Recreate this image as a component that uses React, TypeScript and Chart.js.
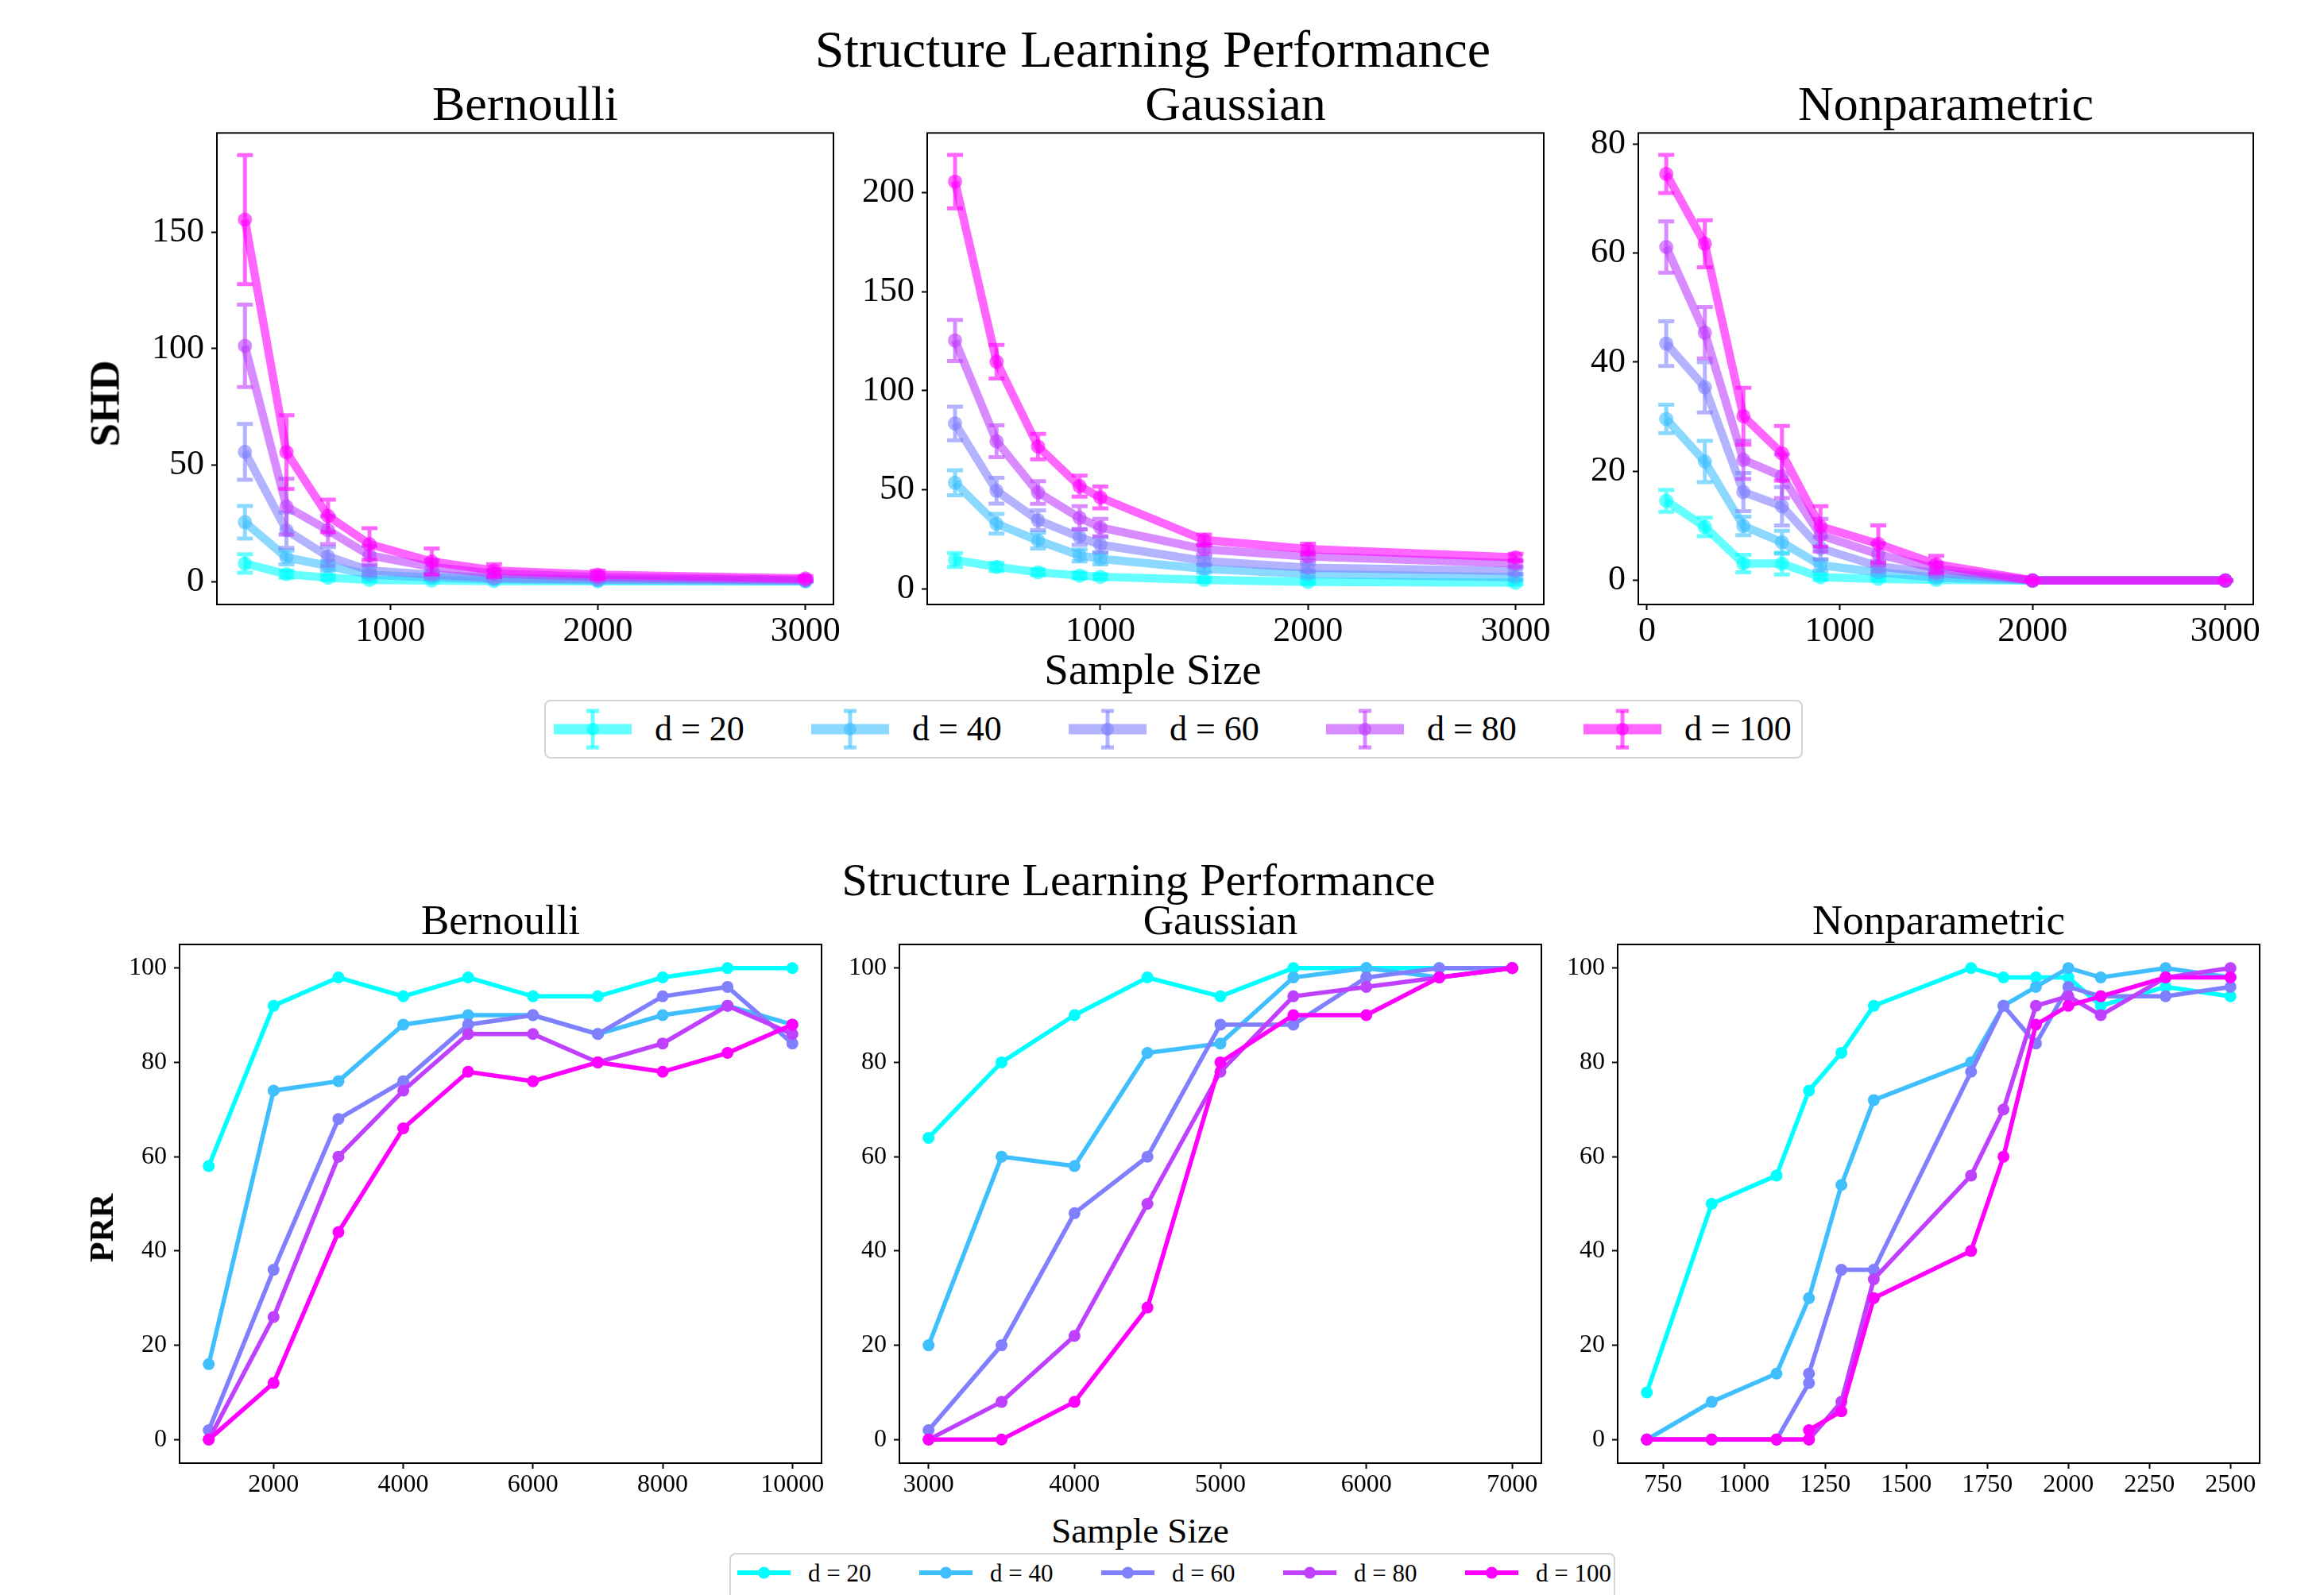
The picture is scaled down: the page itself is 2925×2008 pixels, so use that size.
import React, { useEffect, useRef } from 'react';
import { Chart, registerables } from 'chart.js';

Chart.register(...registerables);

const FONT = "'Liberation Serif', 'Times New Roman', Times, serif";

// ---------- series ----------
const seriesLabels = ['d = 20', 'd = 40', 'd = 60', 'd = 80', 'd = 100'];
const seriesColors = ['#00FFFF', '#40BFFF', '#8080FF', '#BF40FF', '#FF00FF'];
const fadedColors = [
  'rgba(0,255,255,0.6)',
  'rgba(64,191,255,0.6)',
  'rgba(128,128,255,0.6)',
  'rgba(191,64,255,0.6)',
  'rgba(255,0,255,0.6)',
];

// ---------- SHD (top row) ----------
const shdBernoulliX = [300, 500, 700, 900, 1200, 1500, 2000, 3000];
const shdBernoulliMean = [
  [7.8, 3.2, 1.7, 0.8, 0.5, 0.3, 0.2, 0.1],
  [25.5, 10.4, 6.8, 3.0, 1.8, 1.0, 0.5, 0.3],
  [55.7, 22.1, 10.8, 4.8, 3.0, 1.5, 1.0, 0.5],
  [101.2, 32.2, 22.1, 11.3, 6.3, 3.5, 2.0, 0.8],
  [155.4, 55.6, 28.2, 16.1, 8.6, 4.8, 3.0, 1.4],
];
const shdBernoulliErr = [
  [4, 1.5, 1, 0.6, 0.4, 0.3, 0.2, 0.1],
  [7, 3, 2, 1.2, 0.8, 0.5, 0.3, 0.2],
  [12, 7.6, 4, 2, 1.5, 1, 0.6, 0.4],
  [17.7, 12, 6, 4, 3, 1.5, 1, 0.5],
  [27.7, 15.8, 7, 6.8, 5.6, 2.7, 1.7, 1],
];
const shdBernoulliXTicks = [1000, 2000, 3000];
const shdBernoulliYTicks = [0, 50, 100, 150];

const shdGaussianX = [300, 500, 700, 900, 1000, 1500, 2000, 3000];
const shdGaussianMean = [
  [14.5, 11.0, 8.3, 6.6, 6.0, 4.4, 3.4, 3.0],
  [53.5, 32.8, 24.3, 16.8, 15.1, 10.1, 7.4, 5.7],
  [83.5, 49.5, 34.6, 26.1, 22.2, 14.0, 10.6, 9.0],
  [125.4, 74.5, 48.6, 35.8, 30.9, 19.9, 16.3, 12.8],
  [205.7, 114.7, 71.8, 51.8, 46.1, 24.6, 20.0, 15.8],
];
const shdGaussianErr = [
  [3.5, 2, 1.5, 1.5, 1.3, 1, 1, 1],
  [6.3, 5, 4, 3, 2.8, 2, 1.5, 1.2],
  [8.5, 6.5, 5, 4, 3.8, 2, 2, 1.5],
  [10.4, 8, 5.7, 5.9, 4.4, 2.5, 2, 1.5],
  [13.5, 8.5, 6.4, 5.3, 5.5, 2.7, 2.7, 1.8],
];
const shdGaussianXTicks = [1000, 2000, 3000];
const shdGaussianYTicks = [0, 50, 100, 150, 200];

const shdNonparamX = [100, 300, 500, 700, 900, 1200, 1500, 2000, 3000];
const shdNonparamMean = [
  [14.6, 9.8, 3.1, 3.1, 0.6, 0.3, 0.1, 0, 0],
  [29.6, 21.8, 10.0, 7.0, 2.8, 1.5, 0.5, 0, 0],
  [43.4, 35.4, 16.2, 13.6, 5.9, 2.6, 1.4, 0, 0],
  [61.1, 45.4, 22.1, 19.1, 8.3, 4.8, 2.2, 0, 0],
  [74.5, 61.7, 30.1, 23.3, 9.9, 6.7, 3.0, 0, 0],
];
const shdNonparamErr = [
  [2, 1.7, 1.6, 2, 0.5, 0.3, 0.2, 0, 0],
  [2.6, 3.8, 1.7, 2.1, 1, 0.5, 0.3, 0, 0],
  [4.1, 4.6, 3.5, 3.5, 2, 1, 0.7, 0, 0],
  [4.7, 4.7, 3.5, 4, 3, 2, 1, 0, 0],
  [3.5, 4.3, 5.2, 5, 3.7, 3.4, 1.5, 0, 0],
];
const shdNonparamXTicks = [0, 1000, 2000, 3000];
const shdNonparamYTicks = [0, 20, 40, 60, 80];

// ---------- PRR (bottom row) ----------
const prrBernoulliX = [1000, 2000, 3000, 4000, 5000, 6000, 7000, 8000, 9000, 10000];
const prrBernoulli = [
  [58, 92, 98, 94, 98, 94, 94, 98, 100, 100],
  [16, 74, 76, 88, 90, 90, 86, 90, 92, 88],
  [2, 36, 68, 76, 88, 90, 86, 94, 96, 84],
  [0, 26, 60, 74, 86, 86, 80, 84, 92, 86],
  [0, 12, 44, 66, 78, 76, 80, 78, 82, 88],
];
const prrBernoulliXTicks = [2000, 4000, 6000, 8000, 10000];

const prrGaussianX = [3000, 3500, 4000, 4500, 5000, 5500, 6000, 6500, 7000];
const prrGaussian = [
  [64, 80, 90, 98, 94, 100, 100, 100, 100],
  [20, 60, 58, 82, 84, 98, 100, 98, 100],
  [2, 20, 48, 60, 88, 88, 98, 100, 100],
  [0, 8, 22, 50, 78, 94, 96, 98, 100],
  [0, 0, 8, 28, 80, 90, 90, 98, 100],
];
const prrGaussianXTicks = [3000, 4000, 5000, 6000, 7000];

const prrNonparamX = [
  [700, 900, 1100, 1200, 1300, 1400, 1700, 1800, 1900, 2000, 2100, 2300, 2500],
  [700, 900, 1100, 1200, 1300, 1400, 1700, 1800, 1900, 2000, 2100, 2300, 2500],
  [700, 900, 1100, 1200, 1200, 1300, 1400, 1700, 1800, 1900, 2000, 2100, 2300, 2500],
  [700, 900, 1100, 1200, 1300, 1400, 1700, 1800, 1900, 2000, 2100, 2300, 2500],
  [700, 900, 1100, 1200, 1200, 1300, 1400, 1700, 1800, 1900, 2000, 2100, 2300, 2500],
];
const prrNonparam = [
  [10, 50, 56, 74, 82, 92, 100, 98, 98, 98, 92, 96, 94],
  [0, 8, 14, 30, 54, 72, 80, 92, 96, 100, 98, 100, 98],
  [0, 0, 0, 12, 14, 36, 36, 78, 92, 84, 96, 94, 94, 96],
  [0, 0, 0, 0, 8, 34, 56, 70, 92, 94, 90, 98, 100],
  [0, 0, 0, 0, 2, 6, 30, 40, 60, 88, 92, 94, 98, 98],
];
const prrNonparamXTicks = [750, 1000, 1250, 1500, 1750, 2000, 2250, 2500];
const prrYTicks = [0, 20, 40, 60, 80, 100];

// ---------- plugins ----------
const errorBarPlugin = {
  id: 'errorBars',
  afterDatasetDraw(chart: any, args: any) {
    const ds = chart.data.datasets[args.index];
    const errs: number[] | undefined = ds.errors;
    if (!errs) return;
    const ys = chart.scales.y;
    const ctx = chart.ctx;
    const cap = ds.capHalf || 8;
    ctx.save();
    ctx.strokeStyle = ds.borderColor;
    ctx.lineWidth = ds.errWidth || 4;
    ctx.lineCap = 'butt';
    ctx.beginPath();
    args.meta.data.forEach((pt: any, i: number) => {
      const v = ds.data[i].y;
      const e = errs[i];
      const x = pt.x;
      const y1 = ys.getPixelForValue(v + e);
      const y2 = ys.getPixelForValue(v - e);
      ctx.moveTo(x, y1);
      ctx.lineTo(x, y2);
      ctx.moveTo(x - cap, y1);
      ctx.lineTo(x + cap, y1);
      ctx.moveTo(x - cap, y2);
      ctx.lineTo(x + cap, y2);
    });
    ctx.stroke();
    ctx.restore();
  },
};

const framePlugin = {
  id: 'frame',
  afterDraw(chart: any) {
    const { ctx, chartArea: a } = chart;
    ctx.save();
    ctx.strokeStyle = '#000';
    ctx.lineWidth = 2;
    ctx.strokeRect(a.left, a.top, a.right - a.left, a.bottom - a.top);
    ctx.restore();
  },
};

// ---------- panel ----------
type PanelProps = {
  l: number; t: number; r: number; b: number;
  yW: number; xH: number; padT: number; padR: number;
  datasets: any[];
  xMin: number; xMax: number; xTicks: number[];
  yMin: number; yMax: number; yTicks: number[];
  tickSize: number;
};

function Panel(p: PanelProps) {
  const ref = useRef<HTMLCanvasElement | null>(null);
  const W = p.r - p.l + p.yW + p.padR;
  const H = p.b - p.t + p.padT + p.xH;
  useEffect(() => {
    const tickFont = { family: FONT, size: p.tickSize };
    const grid = {
      display: true,
      drawOnChartArea: false,
      drawTicks: true,
      tickLength: 7,
      tickWidth: 2,
      tickColor: '#000',
    };
    const chart = new Chart(ref.current as HTMLCanvasElement, {
      type: 'line',
      data: { datasets: p.datasets },
      options: {
        responsive: false,
        animation: false,
        layout: { padding: { top: p.padT, right: p.padR, left: 0, bottom: 0 } },
        plugins: { legend: { display: false }, tooltip: { enabled: false } },
        scales: {
          x: {
            type: 'linear',
            min: p.xMin,
            max: p.xMax,
            afterBuildTicks: (ax: any) => {
              ax.ticks = p.xTicks.map((v) => ({ value: v }));
            },
            afterFit: (s: any) => {
              s.height = p.xH;
            },
            ticks: {
              font: tickFont,
              color: '#000',
              maxRotation: 0,
              minRotation: 0,
              autoSkip: false,
              padding: 1,
              callback: (v: any) => String(v),
            },
            grid,
            border: { display: false },
          },
          y: {
            type: 'linear',
            min: p.yMin,
            max: p.yMax,
            afterBuildTicks: (ax: any) => {
              ax.ticks = p.yTicks.map((v) => ({ value: v }));
            },
            afterFit: (s: any) => {
              s.width = p.yW;
            },
            ticks: {
              font: tickFont,
              color: '#000',
              autoSkip: false,
              padding: 9,
              callback: (v: any) => String(v),
            },
            grid,
            border: { display: false },
          },
        },
      } as any,
      plugins: [errorBarPlugin, framePlugin],
    });
    return () => chart.destroy();
  }, []);
  return (
    <canvas
      ref={ref}
      width={W}
      height={H}
      style={{ position: 'absolute', left: p.l - p.yW, top: p.t - p.padT, width: W, height: H }}
    />
  );
}

function shdDatasets(xs: number[], means: number[][], errs: number[][]) {
  return means.map((m, i) => ({
    label: seriesLabels[i],
    data: xs.map((x, j) => ({ x, y: m[j] })),
    borderColor: fadedColors[i],
    backgroundColor: fadedColors[i],
    pointBackgroundColor: fadedColors[i],
    pointBorderWidth: 0,
    pointRadius: 9,
    borderWidth: 10.5,
    tension: 0,
    fill: false,
    order: 5 - i,
    errors: errs[i],
    errWidth: 5,
    capHalf: 10,
  }));
}

function prrDatasets(xs: number[][], vals: number[][]) {
  return vals.map((v, i) => ({
    label: seriesLabels[i],
    data: xs[i].map((x, j) => ({ x, y: v[j] })),
    borderColor: seriesColors[i],
    backgroundColor: seriesColors[i],
    pointBackgroundColor: seriesColors[i],
    pointBorderWidth: 0,
    pointRadius: 7.5,
    borderWidth: 5.5,
    tension: 0,
    fill: false,
    order: 5 - i,
  }));
}

function Txt(props: { x: number; y: number; size: number; children: any; rotate?: boolean; bold?: boolean }) {
  return (
    <div
      style={{
        position: 'absolute',
        left: props.x,
        top: props.y,
        transform: `translate(-50%, -50%)${props.rotate ? ' rotate(-90deg)' : ''}`,
        fontFamily: FONT,
        fontSize: props.size,
        fontWeight: props.bold ? 'bold' : 'normal',
        lineHeight: 1,
        whiteSpace: 'nowrap',
        color: '#000',
      }}
    >
      {props.children}
    </div>
  );
}

function TopLegend() {
  return (
    <div
      style={{
        position: 'absolute', left: 685, top: 881, width: 1584, height: 74,
        border: '2.5px solid #d4d4d4', borderRadius: 8, boxSizing: 'border-box', background: '#fff',
      }}
    >
      {seriesLabels.map((lab, i) => (
        <div
          key={i}
          style={{ position: 'absolute', left: 10 + 324 * i, top: 0, height: '100%', display: 'flex', alignItems: 'center' }}
        >
          <svg width={98} height={52}>
            <line x1={0} y1={26} x2={98} y2={26} stroke={fadedColors[i]} strokeWidth={13} />
            <line x1={49} y1={3} x2={49} y2={49} stroke={fadedColors[i]} strokeWidth={5} />
            <line x1={41} y1={3} x2={57} y2={3} stroke={fadedColors[i]} strokeWidth={5} />
            <line x1={41} y1={49} x2={57} y2={49} stroke={fadedColors[i]} strokeWidth={5} />
            <circle cx={49} cy={26} r={8} fill={fadedColors[i]} />
          </svg>
          <span style={{ marginLeft: 29, fontFamily: FONT, fontSize: 44, lineHeight: 1 }}>{lab}</span>
        </div>
      ))}
    </div>
  );
}

function BottomLegend() {
  return (
    <div
      style={{
        position: 'absolute', left: 918, top: 1955, width: 1115, height: 80,
        border: '2.5px solid #d4d4d4', borderRadius: 8, boxSizing: 'border-box', background: '#fff',
      }}
    >
      {seriesLabels.map((lab, i) => (
        <div
          key={i}
          style={{ position: 'absolute', left: 8 + 229 * i, top: 3, height: 40, display: 'flex', alignItems: 'center' }}
        >
          <svg width={67} height={20}>
            <line x1={0} y1={10} x2={67} y2={10} stroke={seriesColors[i]} strokeWidth={6} />
            <circle cx={33.5} cy={10} r={7.5} fill={seriesColors[i]} />
          </svg>
          <span style={{ marginLeft: 22, fontFamily: FONT, fontSize: 31, lineHeight: 1 }}>{lab}</span>
        </div>
      ))}
    </div>
  );
}

export default function App() {
  const topRow = { t: 162, b: 761 };
  const botRow = { t: 1189, b: 1842 };
  return (
    <div
      style={{
        position: 'absolute', left: 0, top: 0, width: 2925, height: 2008, overflow: 'hidden', background: '#fff',
      }}
    >
      {/* top row */}
      <Panel
        l={273} r={1049} t={topRow.t} b={topRow.b} yW={130} xH={70} padT={30} padR={60}
        datasets={shdDatasets(shdBernoulliX, shdBernoulliMean, shdBernoulliErr)}
        xMin={165} xMax={3135} xTicks={shdBernoulliXTicks}
        yMin={-9.8} yMax={192.6} yTicks={shdBernoulliYTicks} tickSize={44}
      />
      <Panel
        l={1167} r={1943} t={topRow.t} b={topRow.b} yW={130} xH={70} padT={30} padR={60}
        datasets={shdDatasets(shdGaussianX, shdGaussianMean, shdGaussianErr)}
        xMin={166} xMax={3136} xTicks={shdGaussianXTicks}
        yMin={-8.0} yMax={230.3} yTicks={shdGaussianYTicks} tickSize={44}
      />
      <Panel
        l={2062} r={2836} t={topRow.t} b={topRow.b} yW={130} xH={70} padT={30} padR={60}
        datasets={shdDatasets(shdNonparamX, shdNonparamMean, shdNonparamErr)}
        xMin={-45} xMax={3145} xTicks={shdNonparamXTicks}
        yMin={-4.4} yMax={82.0} yTicks={shdNonparamYTicks} tickSize={44}
      />

      {/* bottom row */}
      <Panel
        l={226} r={1034} t={botRow.t} b={botRow.b} yW={100} xH={55} padT={30} padR={50}
        datasets={prrDatasets(prrBernoulli.map(() => prrBernoulliX), prrBernoulli)}
        xMin={550} xMax={10450} xTicks={prrBernoulliXTicks}
        yMin={-5} yMax={105} yTicks={prrYTicks} tickSize={32}
      />
      <Panel
        l={1132} r={1940} t={botRow.t} b={botRow.b} yW={100} xH={55} padT={30} padR={50}
        datasets={prrDatasets(prrGaussian.map(() => prrGaussianX), prrGaussian)}
        xMin={2800} xMax={7200} xTicks={prrGaussianXTicks}
        yMin={-5} yMax={105} yTicks={prrYTicks} tickSize={32}
      />
      <Panel
        l={2036} r={2844} t={botRow.t} b={botRow.b} yW={100} xH={55} padT={30} padR={50}
        datasets={prrDatasets(prrNonparamX, prrNonparam)}
        xMin={610} xMax={2590} xTicks={prrNonparamXTicks}
        yMin={-5} yMax={105} yTicks={prrYTicks} tickSize={32}
      />

      {/* top texts */}
      <Txt x={1451} y={62} size={66}>Structure Learning Performance</Txt>
      <Txt x={661} y={130} size={62}>Bernoulli</Txt>
      <Txt x={1555} y={130} size={62}>Gaussian</Txt>
      <Txt x={2449} y={130} size={62}>Nonparametric</Txt>
      <Txt x={1451} y={842} size={55}>Sample Size</Txt>
      <Txt x={132} y={508} size={53} rotate bold>SHD</Txt>
      <TopLegend />

      {/* bottom texts */}
      <Txt x={1433} y={1108} size={58}>Structure Learning Performance</Txt>
      <Txt x={630} y={1158} size={53}>Bernoulli</Txt>
      <Txt x={1536} y={1158} size={53}>Gaussian</Txt>
      <Txt x={2440} y={1158} size={53}>Nonparametric</Txt>
      <Txt x={1435} y={1927} size={45}>Sample Size</Txt>
      <Txt x={128} y={1546} size={42} rotate bold>PRR</Txt>
      <BottomLegend />
    </div>
  );
}
